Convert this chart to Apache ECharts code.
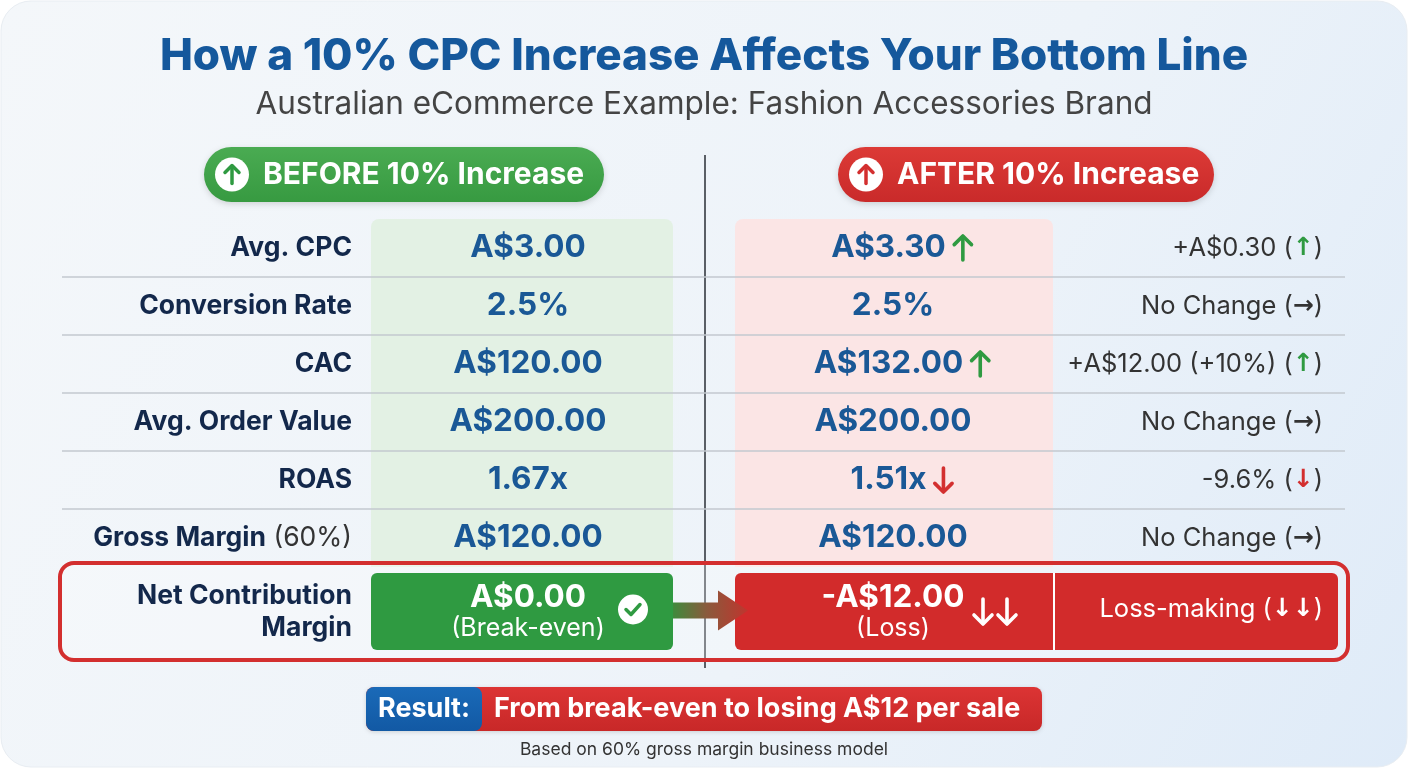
<!DOCTYPE html>
<html><head><meta charset="utf-8">
<script src="https://cdn.jsdelivr.net/npm/echarts@6/dist/echarts.min.js"></script>
<style>html,body{margin:0;padding:0;background:#ffffff;}#c{width:1408px;height:768px;}</style>
</head><body><div id="c"></div>
<script>
// ---------- DATA ----------
const titleText = 'How a 10% CPC Increase Affects Your Bottom Line';
const subtitleText = 'Australian eCommerce Example: Fashion Accessories Brand';
const beforeHeader = 'BEFORE 10% Increase';
const afterHeader = 'AFTER 10% Increase';
const metrics = ['Avg. CPC', 'Conversion Rate', 'CAC', 'Avg. Order Value', 'ROAS', 'Gross Margin'];
const metricNotes = ['', '', '', '', '', '(60%)'];
const beforeValues = ['A$3.00', '2.5%', 'A$120.00', 'A$200.00', '1.67x', 'A$120.00'];
const afterValues = ['A$3.30', '2.5%', 'A$132.00', 'A$200.00', '1.51x', 'A$120.00'];
const afterTrend = ['up', 'flat', 'up', 'flat', 'down', 'flat'];
const changeLabels = ['+A$0.30', 'No Change', '+A$12.00 (+10%)', 'No Change', '-9.6%', 'No Change'];
const netMetric = ['Net Contribution Margin'];
const netBefore = ['A$0.00'];
const netBeforeNote = ['(Break-even)'];
const netAfter = ['-A$12.00'];
const netAfterNote = ['(Loss)'];
const netChange = ['Loss-making'];
const resultLabel = 'Result:';
const resultText = 'From break-even to losing A$12 per sale';
const footnote = 'Based on 60% gross margin business model';

// ---------- STYLE / LAYOUT ----------
const FONT = 'Inter, "Noto Sans", sans-serif';
const ARROWFONT = '"DejaVu Sans", sans-serif';
const NAVY = '#13284b', BLUE = '#1a5896', GREEN = '#2f9a41', RED = '#d32f2f', GREY = '#333333';
const FS = { title: 44, sub: 31.5, pill: 30, label: 26.5, value: 31.5, change: 25.5, note: 25, result: 27, foot: 17.5, chArrow: 25 };
const L = { labelR: 352, bL: 371, bR: 673, bC: 528, aL: 735, aR: 1053, aC: 893, aArrowC: 902, chR: 1323, lineL: 62, lineR: 1345, boxL: 60, boxR: 1348, redR: 1338 };
const trendSym = { up: '↑', down: '↓', flat: '→' };
const trendCol = { up: GREEN, down: RED, flat: GREY };

const mctx = document.createElement('canvas').getContext('2d');
function textWidth(t, size, weight) { mctx.font = (weight || 'normal') + ' ' + size + 'px ' + FONT; return mctx.measureText(t).width; }

// vertical arrow drawn as strokes
function arrowEls(cx, cy, dir, len, color, lw, z2) {
  const s = dir === 'up' ? -1 : 1;
  const tipY = cy + s * len / 2, tailY = cy - s * len / 2, hw = len * 0.36;
  return [
    { type: 'line', z2: z2, shape: { x1: cx, y1: tailY, x2: cx, y2: tipY - s * 1 }, style: { stroke: color, lineWidth: lw, lineCap: 'round' } },
    { type: 'polyline', z2: z2, shape: { points: [[cx - hw, tipY - s * hw], [cx, tipY], [cx + hw, tipY - s * hw]] }, style: { stroke: color, lineWidth: lw, lineCap: 'round', lineJoin: 'round', fill: null } }
  ];
}

function renderRow(params, api) {
  const i = api.value(1);
  const cy = api.coord([0, i])[1];
  const h = api.size([0, 1])[1];
  const top = cy - h / 2, bot = cy + h / 2;
  const X = v => api.coord([v, i])[0];
  const ch = [];
  ch.push({ type: 'rect', z2: 0, shape: { x: X(L.bL), y: top, width: X(L.bR) - X(L.bL), height: h, r: i === 0 ? [8, 8, 0, 0] : 0 }, style: { fill: '#e3f1e4' } });
  ch.push({ type: 'rect', z2: 0, shape: { x: X(L.aL), y: top, width: X(L.aR) - X(L.aL), height: h, r: i === 0 ? [8, 8, 0, 0] : 0 }, style: { fill: '#fbe5e5' } });
  if (i < metrics.length - 1) {
    ch.push({ type: 'line', z2: 5, shape: { x1: X(L.lineL), y1: bot, x2: X(L.lineR), y2: bot }, style: { stroke: '#c3c8cf', lineWidth: 1.5 } });
  }
  const note = metricNotes[i];
  ch.push({ type: 'text', z2: 10, style: {
    text: '{b|' + metrics[i] + '}' + (note ? '{n| ' + note + '}' : ''),
    x: X(L.labelR), y: cy, align: 'right', verticalAlign: 'middle',
    rich: { b: { fontFamily: FONT, fontWeight: 'bold', fontSize: FS.label, fill: NAVY }, n: { fontFamily: FONT, fontWeight: 'normal', fontSize: FS.label, fill: GREY } }
  } });
  ch.push({ type: 'text', z2: 10, style: { text: beforeValues[i], x: X(L.bC), y: cy, align: 'center', verticalAlign: 'middle', fontFamily: FONT, fontWeight: 'bold', fontSize: FS.value, fill: BLUE } });
  const tr = afterTrend[i];
  if (tr === 'flat') {
    ch.push({ type: 'text', z2: 10, style: { text: afterValues[i], x: X(L.aC), y: cy, align: 'center', verticalAlign: 'middle', fontFamily: FONT, fontWeight: 'bold', fontSize: FS.value, fill: BLUE } });
  } else {
    const w = textWidth(afterValues[i], FS.value, 'bold');
    const gap = 7, aw = 20;
    const start = X(L.aArrowC) - (w + gap + aw) / 2;
    ch.push({ type: 'text', z2: 10, style: { text: afterValues[i], x: start, y: cy, align: 'left', verticalAlign: 'middle', fontFamily: FONT, fontWeight: 'bold', fontSize: FS.value, fill: BLUE } });
    arrowEls(start + w + gap + aw / 2, cy, tr, 24, trendCol[tr], 3.6, 11).forEach(e => ch.push(e));
  }
  ch.push({ type: 'text', z2: 10, style: {
    text: '{t|' + changeLabels[i] + ' (}{a|' + trendSym[tr] + '}{t|)}',
    x: X(L.chR), y: cy, align: 'right', verticalAlign: 'middle',
    rich: { t: { fontFamily: FONT, fontSize: FS.change, fill: GREY }, a: { fontFamily: ARROWFONT, fontWeight: 'bold', fontSize: FS.chArrow, fill: trendCol[tr] } }
  } });
  return { type: 'group', children: ch };
}

function renderNet(params, api) {
  const i = api.value(1);
  const cy = api.coord([0, i])[1];
  const h = api.size([0, 1])[1];
  const top = cy - h / 2, bot = cy + h / 2;
  const X = v => api.coord([v, i])[0];
  const ct = top + 10, cb = bot - 10;
  const ch = [];
  ch.push({ type: 'rect', z2: 1, shape: { x: X(L.boxL), y: top, width: X(L.boxR) - X(L.boxL), height: h, r: 14 }, style: { fill: 'rgba(255,255,255,0.25)', stroke: RED, lineWidth: 4 } });
  ch.push({ type: 'rect', z2: 2, shape: { x: X(L.bL), y: ct, width: X(L.bR) - X(L.bL), height: cb - ct, r: 6 }, style: { fill: GREEN } });
  ch.push({ type: 'rect', z2: 2, shape: { x: X(L.aL), y: ct, width: X(L.redR) - X(L.aL), height: cb - ct, r: 6 }, style: { fill: '#d22b2b' } });
  ch.push({ type: 'line', z2: 3, shape: { x1: X(L.aR + 1), y1: ct, x2: X(L.aR + 1), y2: cb }, style: { stroke: '#ffffff', lineWidth: 2 } });
  const ay = cy - 1;
  ch.push({ type: 'polygon', z2: 4, shape: { points: [
    [X(L.bR), ay - 8], [X(L.bR + 45), ay - 8], [X(L.bR + 45), ay - 20], [X(L.bR + 75), ay], [X(L.bR + 45), ay + 20], [X(L.bR + 45), ay + 8], [X(L.bR), ay + 8]
  ] }, style: { fill: new echarts.graphic.LinearGradient(0, 0, 1, 0, [{ offset: 0, color: '#3f8a3c' }, { offset: 0.45, color: '#8a5a3c' }, { offset: 1, color: '#c0352e' }]) } });
  ch.push({ type: 'text', z2: 10, style: { text: 'Net Contribution\nMargin', x: X(L.labelR), y: cy + 1, align: 'right', verticalAlign: 'middle', fontFamily: FONT, fontWeight: 'bold', fontSize: FS.label, lineHeight: 32, fill: NAVY } });
  ch.push({ type: 'text', z2: 10, style: { text: netBefore[i], x: X(L.bC), y: cy - 14, align: 'center', verticalAlign: 'middle', fontFamily: FONT, fontWeight: 'bold', fontSize: FS.value, fill: '#ffffff' } });
  ch.push({ type: 'text', z2: 10, style: { text: netBeforeNote[i], x: X(L.bC), y: cy + 17, align: 'center', verticalAlign: 'middle', fontFamily: FONT, fontSize: FS.note, fill: '#ffffff' } });
  ch.push({ type: 'circle', z2: 10, shape: { cx: X(L.bC + 105), cy: cy - 2, r: 15 }, style: { fill: '#ffffff' } });
  ch.push({ type: 'polyline', z2: 11, shape: { points: [[X(L.bC + 98), cy - 2], [X(L.bC + 103), cy + 3], [X(L.bC + 112), cy - 7]] }, style: { stroke: GREEN, lineWidth: 3.5, fill: null, lineCap: 'round', lineJoin: 'round' } });
  ch.push({ type: 'text', z2: 10, style: { text: netAfter[i], x: X(L.aC), y: cy - 14, align: 'center', verticalAlign: 'middle', fontFamily: FONT, fontWeight: 'bold', fontSize: FS.value, fill: '#ffffff' } });
  ch.push({ type: 'text', z2: 10, style: { text: netAfterNote[i], x: X(L.aC), y: cy + 17, align: 'center', verticalAlign: 'middle', fontFamily: FONT, fontSize: FS.note, fill: '#ffffff' } });
  arrowEls(X(L.aC + 90), cy, 'down', 25, '#ffffff', 3.6, 11).forEach(e => ch.push(e));
  arrowEls(X(L.aC + 114), cy, 'down', 25, '#ffffff', 3.6, 11).forEach(e => ch.push(e));
  ch.push({ type: 'text', z2: 10, style: {
    text: '{t|' + netChange[i] + ' (}{a|↓↓}{t|)}', x: X(L.chR), y: cy - 2, align: 'right', verticalAlign: 'middle',
    rich: { t: { fontFamily: FONT, fontSize: FS.change, fill: '#ffffff' }, a: { fontFamily: ARROWFONT, fontWeight: 'bold', fontSize: FS.chArrow, fill: '#ffffff' } }
  } });
  return { type: 'group', children: ch };
}

function pill(cx, w, color1, color2, text, iconColor) {
  const y = 147, h = 55, x = cx - w / 2;
  const icx = x + 28, icy = y + h / 2;
  return { type: 'group', children: [
    { type: 'rect', shape: { x: x, y: y, width: w, height: h, r: h / 2 }, style: { fill: new echarts.graphic.LinearGradient(0, 0, 0, 1, [{ offset: 0, color: color1 }, { offset: 1, color: color2 }]), shadowBlur: 6, shadowOffsetY: 2, shadowColor: 'rgba(0,0,0,0.15)' } },
    { type: 'circle', shape: { cx: icx, cy: icy, r: 17 }, style: { fill: '#ffffff' } },
    { type: 'line', shape: { x1: icx, y1: icy + 9, x2: icx, y2: icy - 8 }, style: { stroke: iconColor, lineWidth: 3.5, lineCap: 'round' } },
    { type: 'polyline', shape: { points: [[icx - 7, icy - 2], [icx, icy - 9], [icx + 7, icy - 2]] }, style: { stroke: iconColor, lineWidth: 3.5, lineCap: 'round', lineJoin: 'round', fill: null } },
    { type: 'text', style: { text: text, x: x + 59, y: icy, align: 'left', verticalAlign: 'middle', fontFamily: FONT, fontWeight: 'bold', fontSize: FS.pill, fill: '#ffffff' } }
  ] };
}

const chart = echarts.init(document.getElementById('c'), null, { renderer: 'canvas' });
chart.setOption({
  animation: false,
  backgroundColor: '#ffffff',
  title: {
    text: titleText, subtext: subtitleText, left: 'center', top: 26, itemGap: 3,
    textStyle: { fontFamily: FONT, fontWeight: 800, fontSize: FS.title, lineHeight: 52, color: '#15589c' },
    subtextStyle: { fontFamily: FONT, fontSize: FS.sub, lineHeight: 38, color: '#444444' }
  },
  grid: [
    { left: 0, right: 0, top: 219, height: 348 },
    { left: 0, right: 0, top: 563, height: 97 }
  ],
  xAxis: [
    { type: 'value', gridIndex: 0, min: 0, max: 1408, show: false },
    { type: 'value', gridIndex: 1, min: 0, max: 1408, show: false }
  ],
  yAxis: [
    { type: 'category', gridIndex: 0, data: metrics, inverse: true, show: false },
    { type: 'category', gridIndex: 1, data: netMetric, inverse: true, show: false }
  ],
  graphic: [
    { type: 'rect', z: -10, shape: { x: 1, y: 1, width: 1406, height: 766, r: 30 }, style: { fill: new echarts.graphic.LinearGradient(0, 0, 1, 1, [{ offset: 0, color: '#f4f7fa' }, { offset: 0.6, color: '#edf3f9' }, { offset: 1, color: '#dfebf8' }]), stroke: '#e8edf2', lineWidth: 1 } },
    { type: 'line', z: 1, shape: { x1: 705, y1: 155, x2: 705, y2: 668 }, style: { stroke: '#5a5f66', lineWidth: 2 } },
    pill(404, 400, '#4aab52', '#379a41', beforeHeader, GREEN),
    pill(1026, 376, '#dc3a36', '#c92a2a', afterHeader, RED),
    { type: 'rect', z: 5, shape: { x: 366, y: 687, width: 676, height: 44, r: 8 }, style: { fill: new echarts.graphic.LinearGradient(0, 0, 0, 1, [{ offset: 0, color: '#dc3434' }, { offset: 1, color: '#c82828' }]), shadowBlur: 4, shadowOffsetY: 1, shadowColor: 'rgba(0,0,0,0.15)' } },
    { type: 'rect', z: 6, shape: { x: 366, y: 687, width: 116, height: 44, r: 8 }, style: { fill: new echarts.graphic.LinearGradient(0, 0, 0, 1, [{ offset: 0, color: '#1a6ab8' }, { offset: 1, color: '#1259a4' }]) } },
    { type: 'text', z: 7, style: { text: resultLabel, x: 424, y: 709, align: 'center', verticalAlign: 'middle', fontFamily: FONT, fontWeight: 'bold', fontSize: FS.result, fill: '#ffffff' } },
    { type: 'text', z: 7, style: { text: resultText, x: 494, y: 709, align: 'left', verticalAlign: 'middle', fontFamily: FONT, fontWeight: 'bold', fontSize: FS.result, fill: '#ffffff' } },
    { type: 'text', z: 7, style: { text: footnote, x: 704, y: 750, align: 'center', verticalAlign: 'middle', fontFamily: FONT, fontSize: FS.foot, fill: '#333333' } }
  ],
  series: [
    { type: 'custom', xAxisIndex: 0, yAxisIndex: 0, renderItem: renderRow, data: metrics.map((m, i) => [0, i]), silent: true },
    { type: 'custom', xAxisIndex: 1, yAxisIndex: 1, renderItem: renderNet, data: netMetric.map((m, i) => [0, i]), silent: true }
  ]
});
</script>
</body></html>
